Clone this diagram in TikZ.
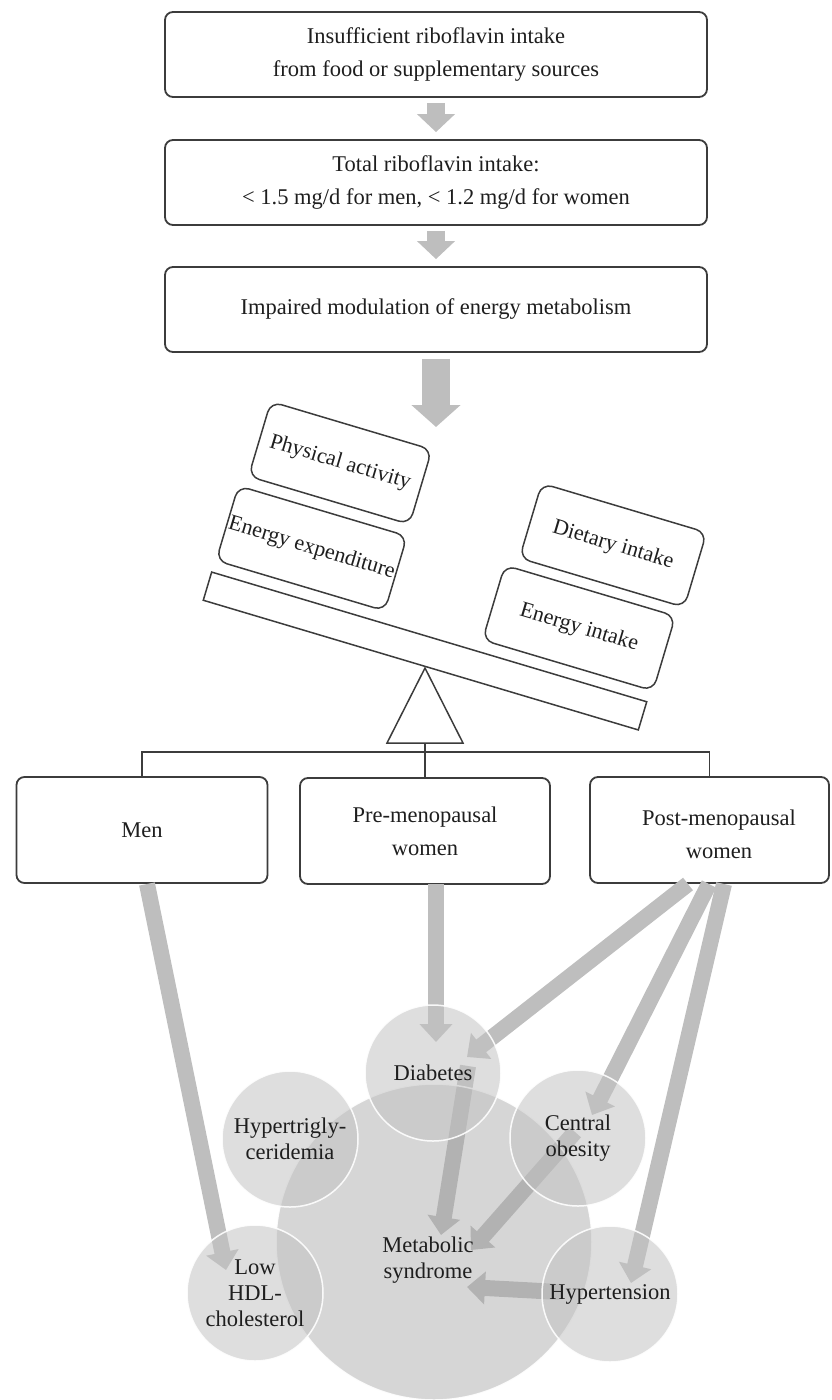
\documentclass[tikz,border=0pt]{standalone}
\usepackage{fontspec}
\setmainfont{Liberation Serif}
\usetikzlibrary{arrows.meta}
\definecolor{boxline}{HTML}{3C3C3C}
\definecolor{arrowgray}{HTML}{BEBEBE}
\definecolor{txt}{HTML}{1E1E1E}
\definecolor{smallfill}{HTML}{C2C2C2}
\definecolor{bigfill}{HTML}{A6A6A6}
\begin{document}
\begin{tikzpicture}[x=1pt,y=-1pt,
  flowbox/.style={draw=boxline, line width=1.8pt, rounded corners=8pt, minimum width=542pt, minimum height=85pt, align=center, font=\fontsize{22.5}{33}\selectfont, text=txt, inner sep=0pt},
  groupbox/.style={flowbox, minimum width=251pt, minimum height=106pt},
  tiltbox/.style={draw=boxline, line width=1.5pt, rounded corners=11pt, minimum height=78pt, inner sep=0pt, font=\fontsize{22}{26}\selectfont, text=txt},
  seesawline/.style={draw=boxline, line width=1.5pt},
  smallarr/.style={draw=arrowgray, line width=18pt, -{Triangle[width=37pt,length=18pt]}},
  bigarr/.style={draw=arrowgray, line width=28pt, -{Triangle[width=48pt,length=22pt]}},
  lowarr/.style={draw=arrowgray, line width=16pt, -{Triangle[width=32pt,length=18pt]}},
  circ/.style={circle, minimum size=136pt, inner sep=0pt, fill=smallfill, fill opacity=0.54, draw=white, draw opacity=0.9, line width=1.5pt, text opacity=1, text=txt, align=center, font=\fontsize{22.5}{26}\selectfont},
  bigcirc/.style={circ, minimum size=316pt, fill=bigfill, fill opacity=0.46},
  circtext/.style={align=center, text=txt, inner sep=0pt, font=\fontsize{22.5}{26}\selectfont}
]
\useasboundingbox (0,0) rectangle (831,1400);

% top flow
\node[flowbox] (b1) at (436,54.5) {Insufficient riboflavin intake\\from food or supplementary sources};
\node[flowbox] (b2) at (436,182.5) {Total riboflavin intake:\\< 1.5 mg/d for men, < 1.2 mg/d for women};
\node[flowbox] (b3) at (436,309.5) {Impaired modulation of energy metabolism};
\draw[smallarr, shorten <=5pt, shorten >=7pt] (b1) -- (b2);
\draw[smallarr, shorten <=5pt, shorten >=7pt] (b2) -- (b3);
\coordinate (tipbig) at (436,427);
\draw[bigarr, shorten <=6pt] (b3) -- (tipbig);

% seesaw
\begin{scope}[shift={(425,651)}, rotate=-16.6, transform shape]
  \node[seesawline, minimum width=454pt, minimum height=29.4pt, inner sep=0pt] (plank) at (0,0) {};
  \node[tiltbox, minimum width=168pt] (pa) at (-135,-156) {Physical activity};
  \node[tiltbox, minimum width=176pt] (ee) at (-138,-66) {Energy expenditure};
  \node[tiltbox, minimum width=172pt] (di) at (150,-155) {Dietary intake};
  \node[tiltbox, minimum width=178pt] (ei) at (141,-66) {Energy intake};
\end{scope}
\coordinate (fa) at (425,668);
\coordinate (fl) at (387,743);
\coordinate (fr) at (463,743);
\coordinate (fb) at (425,743);
\draw[seesawline, line join=miter] (fa) -- (fl) -- (fr) -- cycle;

% groups
\node[groupbox] (men) at (142,830) {Men};
\node[groupbox, minimum width=250pt] (pre) at (425,831) {Pre-menopausal\\women};
\node[groupbox, minimum width=239pt] (post) at (709.5,830) {};
\node[circtext, font=\fontsize{22.5}{33}\selectfont] (postlab) at (719,834) {Post-menopausal\\women};
\draw[seesawline] (fb) -- (pre.north);
\draw[seesawline] (men.north) -- ++(0,-24) -| (post.north);

% arrow end points
\coordinate (menout) at (147,884);
\coordinate (hdlin) at (226,1270);
\coordinate (preout) at (436,884);
\coordinate (diain1) at (436,1042);
\coordinate (postout1) at (688,884);
\coordinate (postout2) at (709,884);
\coordinate (postout3) at (724,884);
\coordinate (diain2) at (467,1057);
\coordinate (cenin) at (592,1115);
\coordinate (hypin) at (631,1283);
\coordinate (diaout) at (468,1066);
\coordinate (msin1) at (441,1235);
\coordinate (cenout) at (575,1132);
\coordinate (msin2) at (471,1250);
\coordinate (hypout) at (560,1292);
\coordinate (msin3) at (467,1287);

\draw[lowarr] (menout) -- (hdlin);
\draw[lowarr] (preout) -- (diain1);
\draw[lowarr] (postout1) -- (diain2);
\draw[lowarr] (postout2) -- (cenin);
\draw[lowarr] (postout3) -- (hypin);
\draw[lowarr] (diaout) -- (msin1);
\draw[lowarr] (cenout) -- (msin2);
\draw[lowarr] (hypout) -- (msin3);

% circles
\node[bigcirc] (ms) at (434,1242) {};
\node[circ] (dia) at (433,1073) {Diabetes};
\node[circ] (htg) at (290,1139) {Hypertrigly-\\ceridemia};
\node[circ] (cen) at (578,1138) {Central\\obesity};
\node[circ] (hdl) at (255,1293) {Low\\HDL-\\cholesterol};
\node[circ] (hyp) at (610,1294) {Hypertension};
\node[circtext] (mslab) at (428,1260) {Metabolic\\syndrome};
\end{tikzpicture}
\end{document}
